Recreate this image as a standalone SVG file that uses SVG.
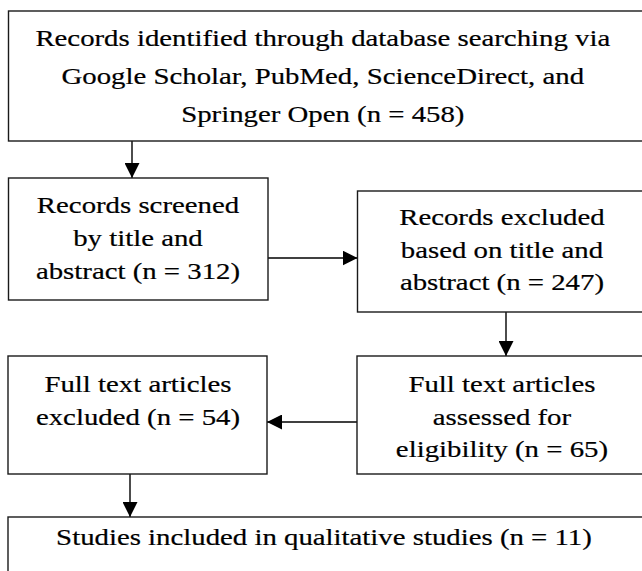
<svg xmlns="http://www.w3.org/2000/svg" width="642" height="571" viewBox="0 0 642 571">
  <defs>
    <marker id="arrowhead" markerUnits="userSpaceOnUse" markerWidth="16" markerHeight="15" refX="15" refY="7.5" orient="auto">
      <path d="M0,0 L15,7.5 L0,15 Z" fill="#000"/>
    </marker>
    <style>
      .box { fill: #fff; stroke: #1a1a1a; stroke-width: 1.4; }
      .link { fill: none; stroke: #000; stroke-width: 1.4; marker-end: url(#arrowhead); }
      .label { font-family: "Liberation Serif", "Times New Roman", serif; font-size: 24px; fill: #000; stroke: #000; stroke-width: 0.2; text-anchor: middle; }
    </style>
  </defs>

  <rect width="642" height="571" fill="#fff"/>

  <!-- connectors -->
  <g id="connectors">
    <line class="link" x1="132" y1="141" x2="132" y2="178"/>
    <line class="link" x1="268" y1="258" x2="357.5" y2="258"/>
    <line class="link" x1="506" y1="312" x2="506" y2="356"/>
    <line class="link" x1="357" y1="422" x2="267" y2="422"/>
    <line class="link" x1="130" y1="474" x2="130" y2="517"/>
  </g>

  <!-- text is set wide (x1.2) to get the proportions of a book face -->
  <g id="identified">
    <rect class="box" x="8.5" y="11" width="700" height="130"/>
    <g transform="scale(1.2 1)">
      <text class="label" x="269" y="46">Records identified through database searching via</text>
      <text class="label" x="269" y="84">Google Scholar, PubMed, ScienceDirect, and</text>
      <text class="label" x="269" y="122">Springer Open (n = 458)</text>
    </g>
  </g>

  <g id="screened">
    <rect class="box" x="8.5" y="178" width="259.5" height="122"/>
    <g transform="scale(1.2 1)">
      <text class="label" x="115" y="213">Records screened</text>
      <text class="label" x="115" y="246">by title and</text>
      <text class="label" x="115" y="279">abstract (n = 312)</text>
    </g>
  </g>

  <g id="excluded-title">
    <rect class="box" x="357.5" y="191" width="400" height="121"/>
    <g transform="scale(1.2 1)">
      <text class="label" x="418.3" y="225">Records excluded</text>
      <text class="label" x="418.3" y="258">based on title and</text>
      <text class="label" x="418.3" y="290">abstract (n = 247)</text>
    </g>
  </g>

  <g id="assessed">
    <rect class="box" x="357" y="356" width="400" height="118"/>
    <g transform="scale(1.2 1)">
      <text class="label" x="418.3" y="392">Full text articles</text>
      <text class="label" x="418.3" y="425">assessed for</text>
      <text class="label" x="418.3" y="457">eligibility (n = 65)</text>
    </g>
  </g>

  <g id="excluded-fulltext">
    <rect class="box" x="8" y="356" width="259" height="118"/>
    <g transform="scale(1.2 1)">
      <text class="label" x="115" y="392">Full text articles</text>
      <text class="label" x="115" y="425">excluded (n = 54)</text>
    </g>
  </g>

  <g id="included">
    <rect class="box" x="8" y="517" width="700" height="100"/>
    <g transform="scale(1.2 1)">
      <text class="label" x="270" y="545">Studies included in qualitative studies (n = 11)</text>
    </g>
  </g>
</svg>
